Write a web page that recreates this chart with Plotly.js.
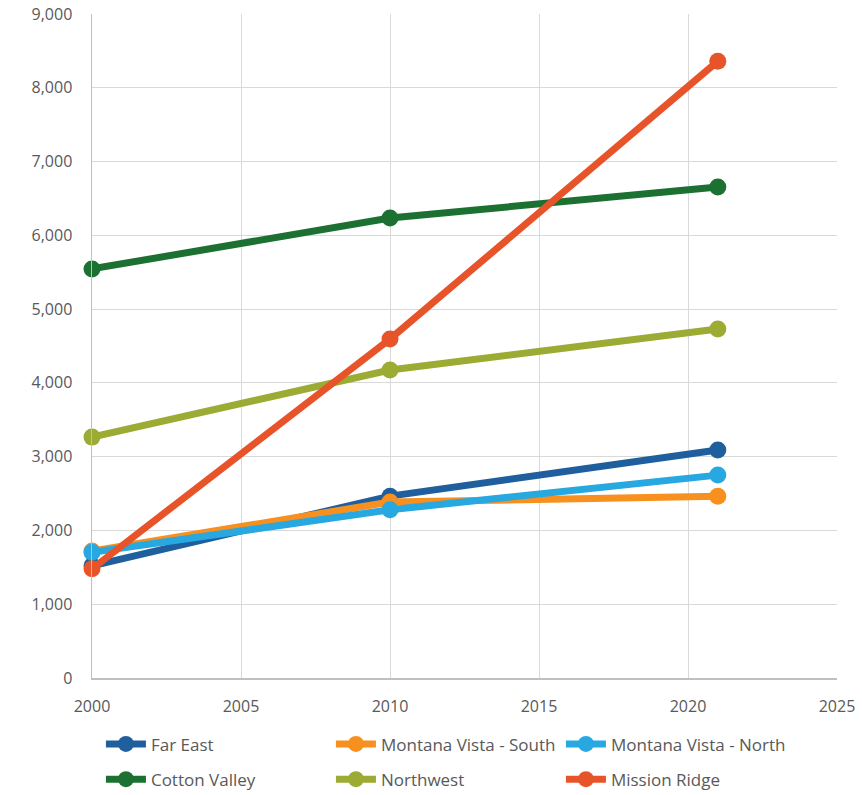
<!DOCTYPE html>
<html>
<head>
<meta charset="utf-8">
<script src="https://cdn.plot.ly/plotly-3.0.1.min.js"></script>
<style>html,body{margin:0;padding:0;background:#fff;}#chart{width:862px;height:795px;}</style>
</head>
<body>
<div id="chart"></div>
<script>
const years = [2000, 2010, 2021];
const seriesNames = ["Far East", "Montana Vista - South", "Montana Vista - North", "Cotton Valley", "Northwest", "Mission Ridge"];
const farEast = [1520, 2465, 3090];
const montanaVistaSouth = [1720, 2385, 2465];
const montanaVistaNorth = [1705, 2280, 2750];
const cottonValley = [5545, 6235, 6655];
const northwest = [3265, 4175, 4730];
const missionRidge = [1480, 4595, 8360];
const colors = ["#1F5F9E", "#F7901E", "#27A8E0", "#1B7032", "#9CAB33", "#E8542A"];
const yTickVals = [0, 1000, 2000, 3000, 4000, 5000, 6000, 7000, 8000, 9000];
const yTickText = ["0", "1,000", "2,000", "3,000", "4,000", "5,000", "6,000", "7,000", "8,000", "9,000"];
const xTickVals = [2000, 2005, 2010, 2015, 2020, 2025];

const values = [farEast, montanaVistaSouth, montanaVistaNorth, cottonValley, northwest, missionRidge];
const traces = values.map((v, i) => ({
  x: years, y: v, name: seriesNames[i], type: "scatter", mode: "lines+markers",
  line: {color: colors[i], width: 7},
  marker: {color: colors[i], size: 17},
  cliponaxis: false,
  legend: i < 3 ? "legend" : "legend2"
}));

const legendBase = {
  orientation: "h", xanchor: "left", yanchor: "middle",
  entrywidth: 175, entrywidthmode: "pixels", itemwidth: 40,
  font: {family: "Open Sans, sans-serif", size: 17, color: "#595959"},
  bgcolor: "rgba(0,0,0,0)"
};

const layout = {
  width: 862, height: 795,
  margin: {l: 92, r: 25, t: 14, b: 117, autoexpand: false},
  paper_bgcolor: "#fff", plot_bgcolor: "#fff",
  font: {family: "Open Sans, sans-serif", color: "#595959", size: 16},
  showlegend: true,
  legend: Object.assign({}, legendBase, {x: 0.012, y: -0.1}),
  legend2: Object.assign({}, legendBase, {x: 0.012, y: -0.153}),
  xaxis: {
    range: [2000, 2025], tickvals: xTickVals, ticktext: xTickVals.map(String),
    showgrid: true, gridcolor: "#d9d9d9", gridwidth: 1,
    showline: true, linecolor: "#bfbfbf", linewidth: 1.5, zeroline: false,
    ticks: "", tickfont: {size: 16, color: "#595959"}, ticklabelstandoff: 13
  },
  yaxis: {
    range: [0, 9000], tickvals: yTickVals, ticktext: yTickText,
    showgrid: true, gridcolor: "#d9d9d9", gridwidth: 1,
    showline: true, linecolor: "#bfbfbf", linewidth: 1.5, zeroline: false,
    ticks: "", tickfont: {size: 16, color: "#595959"}, ticklabelstandoff: 15
  }
};
Plotly.newPlot("chart", traces, layout, {displayModeBar: false, staticPlot: true});
</script>
</body>
</html>
